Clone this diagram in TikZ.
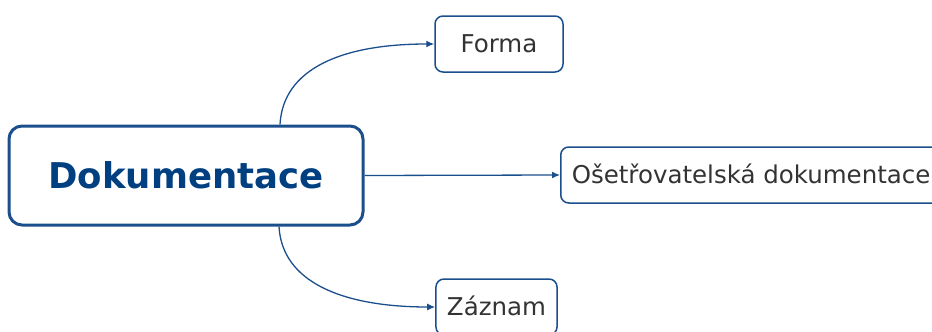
\documentclass[tikz,border=0pt]{standalone}
\usepackage{fontspec}
\setmainfont{DejaVu Sans}
\usetikzlibrary{arrows.meta}
\definecolor{edgeblue}{HTML}{1B4F8C}
\definecolor{titleblue}{HTML}{003F80}
\definecolor{labelgray}{HTML}{333333}
\tikzset{
  rootbox/.style={draw=edgeblue, line width=3pt, rounded corners=13pt, fill=white,
    minimum width=354pt, minimum height=99pt, inner sep=0pt,
    font=\fontsize{35.5}{40}\selectfont\bfseries, text=titleblue,
    text height=26pt, text depth=0pt},
  leafbox/.style={draw=edgeblue, line width=1.5pt, rounded corners=8pt, fill=white,
    minimum height=56pt, inner xsep=11pt, inner ysep=0pt,
    font=\fontsize{24.5}{28}\selectfont, text=labelgray,
    text height=17.8pt, text depth=0pt},
  link/.style={draw=edgeblue, line width=1.3pt, -{Latex[length=8pt,width=7pt]}}
}
\begin{document}
\begin{tikzpicture}[x=1pt,y=1pt]
  \useasboundingbox (0,0) rectangle (932,-332);
  \clip (0,0) rectangle (932,-332);
  \node[rootbox] (root) at (186,-175.5) {Dokumentace};
  \node[leafbox, minimum width=128pt] (forma) at (499,-44) {Forma};
  \node[leafbox, anchor=west] (osetr) at (560,-175) {Ošetřovatelská dokumentace};
  \node[leafbox, minimum width=121pt] (zaznam) at (496.5,-307) {Záznam};
  \draw[link] ([xshift=94pt]root.north) .. controls +(3,56) and +(-92,0) .. (forma.west);
  \draw[link] (root.east) -- (osetr.west);
  \draw[link] ([xshift=93pt]root.south) .. controls +(3,-56) and +(-92,0) .. (zaznam.west);
\end{tikzpicture}
\end{document}
